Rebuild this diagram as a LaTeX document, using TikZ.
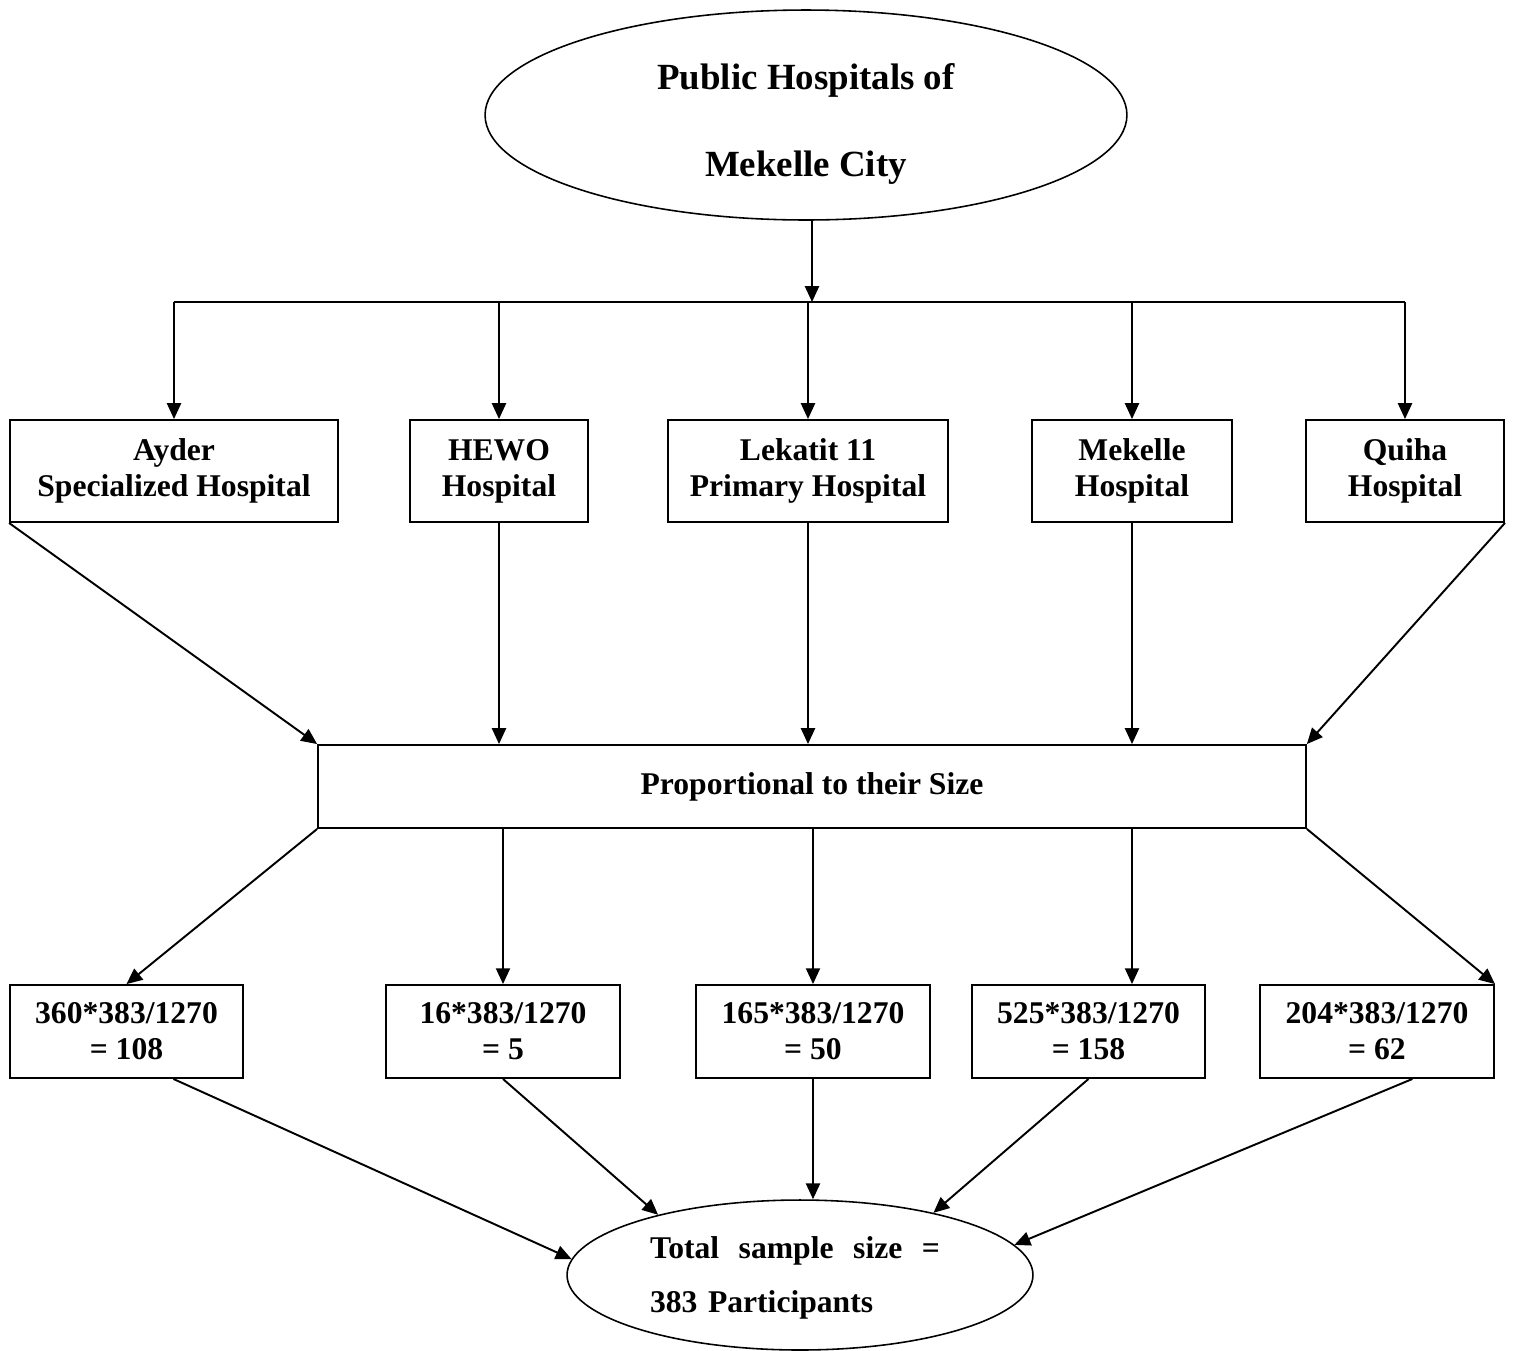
\documentclass[tikz,border=0pt]{standalone}
\usepackage{fontspec}
\setmainfont{Liberation Serif}
\usepackage{tikz}
\usetikzlibrary{shapes.geometric,arrows.meta,calc}

\begin{document}
\begin{tikzpicture}[x=0.02cm, y=-0.02cm,
    line width=1.1pt,
    box/.style={draw, rectangle, align=center, inner sep=0pt,
        font=\fontsize{18}{20.5}\selectfont\bfseries},
    oval/.style={draw, ellipse, inner sep=0pt, line width=0.9pt},
    arr/.style={-{Triangle[length=9pt,width=8pt]}}]
    \useasboundingbox (0,0) rectangle (1514,1350);

    % Top: all public hospitals
    \node[oval, minimum width=12.84cm, minimum height=4.2cm] (city) at (806,115) {};
    \node[align=center, inner sep=0pt,
        font=\fontsize{21}{50}\selectfont\bfseries] (citytext) at (806,124)
        {Public Hospitals of\\Mekelle City};
    \coordinate (jn) at (812,302);

    % Hospitals
    \node[box, minimum width=6.56cm, minimum height=2.04cm] (b1) at (174,471) {Ayder\\Specialized Hospital};
    \node[box, minimum width=3.56cm, minimum height=2.04cm] (b2) at (499,471) {HEWO\\Hospital};
    \node[box, minimum width=5.6cm, minimum height=2.04cm] (b3) at (808,471) {Lekatit 11\\Primary Hospital};
    \node[box, minimum width=4.0cm, minimum height=2.04cm] (b4) at (1132,471) {Mekelle\\Hospital};
    \node[box, minimum width=3.96cm, minimum height=2.04cm] (b5) at (1405,471) {Quiha\\Hospital};

    % Allocation
    \node[box, minimum width=19.76cm, minimum height=1.66cm] (mid) at (812,786.5) {Proportional to their Size};

    % Sample per hospital
    \node[box, minimum width=4.66cm, minimum height=1.86cm] (r1) at (126.5,1031.5) {360*383/1270\\= 108};
    \node[box, minimum width=4.68cm, minimum height=1.86cm] (r2) at (503,1031.5) {16*383/1270\\= 5};
    \node[box, minimum width=4.68cm, minimum height=1.86cm] (r3) at (813,1031.5) {165*383/1270\\= 50};
    \node[box, minimum width=4.66cm, minimum height=1.86cm] (r4) at (1088.5,1031.5) {525*383/1270\\= 158};
    \node[box, minimum width=4.68cm, minimum height=1.86cm] (r5) at (1377,1031.5) {204*383/1270\\= 62};

    % Total
    \node[oval, minimum width=9.32cm, minimum height=3.0cm] (tot) at (800,1275) {};
    \node[text width=5.8cm, align=left, inner sep=0pt,
        font=\fontsize{18}{31}\selectfont\bfseries] (tottext) at (795,1278)
        {Total\hfill sample\hfill size\hfill =\\383 Participants};

    % Arrows: city to hospitals
    \draw[arr] (city.south -| jn) -- (jn);
    \draw (b1 |- jn) -- (b5 |- jn);
    \foreach \b in {b1,b2,b3,b4,b5}
        \draw[arr] (\b |- jn) -- (\b.north);

    % Arrows: hospitals to allocation
    \draw[arr] (b1.south west) -- (mid.north west);
    \draw[arr] (b2.south) -- (b2.south |- mid.north);
    \draw[arr] (b3.south) -- (b3.south |- mid.north);
    \draw[arr] (b4.south) -- (b4.south |- mid.north);
    \draw[arr] (b5.south east) -- (mid.north east);

    % Arrows: allocation to samples
    \draw[arr] (mid.south west) -- (r1.north);
    \draw[arr] (r2.north |- mid.south) -- (r2.north);
    \draw[arr] (r3.north |- mid.south) -- (r3.north);
    \draw[arr] (b4.south |- mid.south) -- (b4.south |- r4.north);
    \draw[arr] (mid.south east) -- (r5.north east);

    % Arrows: samples to total
    \draw[arr] ($(r1.south west)!0.7!(r1.south east)$) -- (tot.176);
    \draw[arr] (r2.south) -- (tot.157);
    \draw[arr] (r3.south) -- (r3.south |- tot.north);
    \draw[arr] (r4.south) -- (tot.25);
    \draw[arr] ($(r5.south west)!0.65!(r5.south east)$) -- (tot.8);
\end{tikzpicture}
\end{document}
